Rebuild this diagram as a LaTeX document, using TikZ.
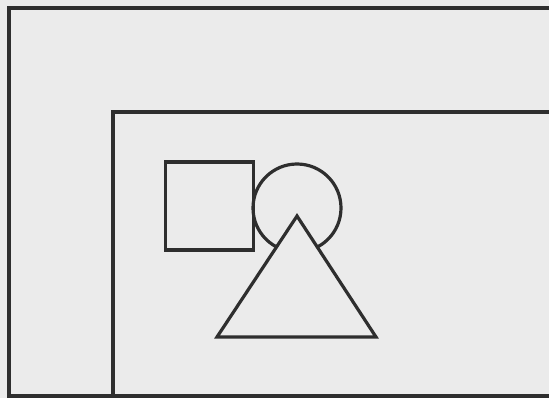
\documentclass[tikz,border=0pt]{standalone}
\usepackage{tikz}
\usetikzlibrary{calc}
\definecolor{paper}{gray}{0.92}
\definecolor{ink}{gray}{0.18}

\begin{document}
\begin{tikzpicture}[x=1pt, y=-1pt, line width=3.2pt]
\fill[paper] (0,0) rectangle (549,398);
\useasboundingbox (0,0) rectangle (549,398);
\coordinate (o1) at (549, 8);
\coordinate (o2) at (9, 8);
\coordinate (o3) at (9, 396);
\coordinate (o4) at (549, 396);
\coordinate (i1) at (549, 112);
\coordinate (i2) at (113, 112);
\coordinate (i3) at (113, 396);
\draw[color=ink, line join=miter] (o1) -- (o2) -- (o3) -- (o4);
\draw[color=ink, line join=miter] (i1) -- (i2) -- (i3);
\node (sq) at (209.5, 206) [draw=ink, minimum size=88pt, inner sep=0pt] {};
\node (ci) at (297, 208) [draw=ink, circle, minimum size=88pt, inner sep=0pt] {};
\coordinate (t1) at (217, 337);
\coordinate (t2) at (376, 337);
\coordinate (t3) at (297, 216);
\filldraw[fill=paper, draw=ink, line join=miter] (t1) -- (t2) -- (t3) -- cycle;
\end{tikzpicture}
\end{document}
